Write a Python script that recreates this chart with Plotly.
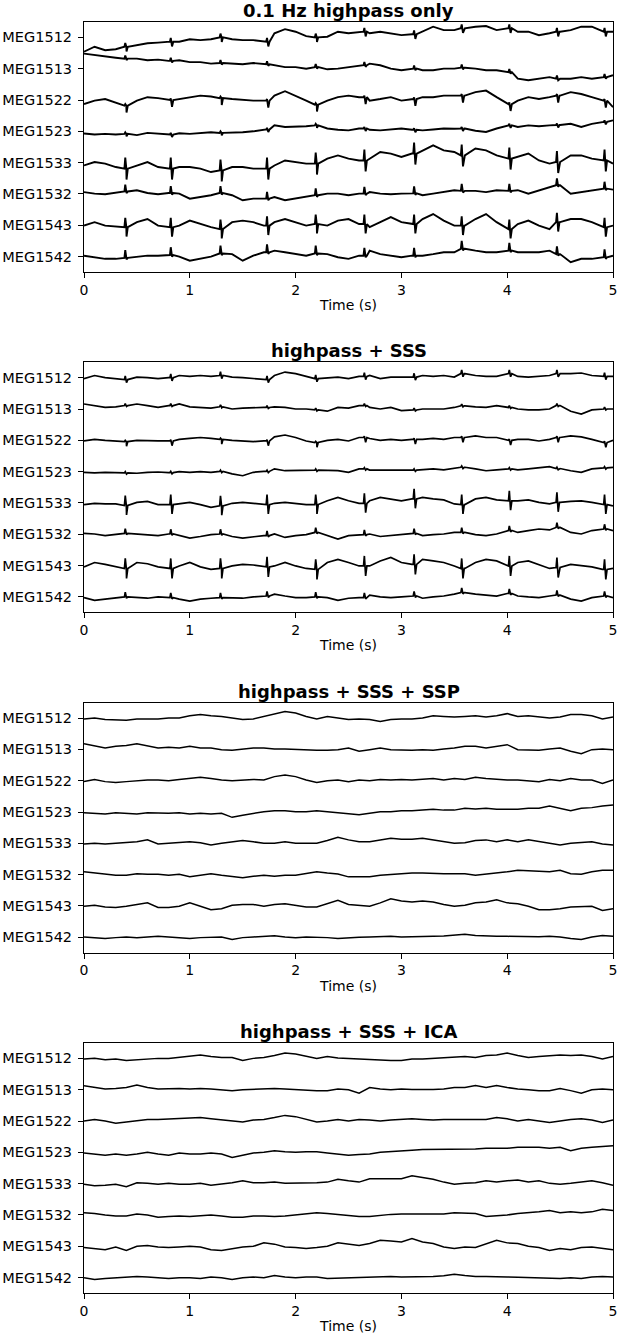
import numpy as np
import plotly.graph_objects as go
from plotly.subplots import make_subplots

channels = ["MEG1512", "MEG1513", "MEG1522", "MEG1523",
            "MEG1533", "MEG1532", "MEG1543", "MEG1542"]
panel_titles = ["0.1 Hz highpass only", "highpass + SSS",
                "highpass + SSS + SSP", "highpass + SSS + ICA"]
x_ticks = [0, 1, 2, 3, 4, 5]
# sampling grid of the read-off values (seconds)
times = [round(0.1 * i, 1) for i in range(51)]
# cardiac artefact times (s) read from the spikes
heartbeat_times = [0.39, 0.82, 1.29, 1.73, 2.19, 2.65, 3.12, 3.57, 4.02, 4.47, 4.92]

# values in units of the channel spacing, one list per channel, t = 0..5 s step 0.1
traces_highpass = [
    [-0.46,-0.30,-0.41,-0.38,-0.30,-0.25,-0.19,-0.17,-0.14,-0.14,-0.06,-0.09,-0.06,0.0,-0.06,-0.09,-0.09,-0.14,0.13,0.26,0.18,0.04,0.0,
     0.02,0.18,0.13,0.18,0.13,0.18,0.13,0.07,0.10,0.18,0.34,0.23,0.23,0.29,0.34,0.36,0.23,0.29,0.18,0.18,0.07,0.13,0.18,0.23,0.34,0.34,0.18,0.18],
    [0.48,0.43,0.39,0.35,0.32,0.32,0.27,0.29,0.25,0.27,0.21,0.21,0.16,0.18,0.16,0.14,0.18,0.14,0.11,0.05,0.05,0.0,0.05,
     -0.02,0.0,0.05,0.11,0.16,0.11,0.0,-0.05,0.0,-0.05,-0.05,0.0,0.0,0.03,0.0,-0.05,-0.05,-0.11,-0.32,-0.37,-0.32,-0.27,-0.32,-0.32,-0.27,-0.32,-0.27,-0.21],
    [-0.13,-0.02,0.03,-0.08,-0.18,-0.02,0.09,0.06,0.0,0.03,0.09,0.14,0.11,0.06,0.03,0.0,-0.02,-0.02,0.14,0.28,0.14,-0.02,-0.15,
     -0.02,0.09,0.14,0.09,-0.02,0.03,0.09,-0.02,0.03,0.09,0.09,0.14,0.14,0.14,0.25,0.30,0.09,-0.13,-0.02,0.09,0.03,0.09,0.14,0.25,0.19,0.09,-0.02,-0.23],
    [-0.07,-0.10,-0.08,-0.10,-0.08,-0.12,-0.05,-0.08,-0.10,-0.06,-0.08,-0.05,-0.03,-0.05,-0.05,-0.03,0.0,0.06,0.19,0.14,0.14,0.16,0.19,
     0.09,0.05,0.03,0.09,0.05,0.03,0.06,0.09,0.05,0.03,0.06,0.09,0.08,0.09,0.02,-0.02,0.09,0.19,0.14,0.19,0.16,0.19,0.20,0.24,0.14,0.24,0.30,0.35],
    [-0.09,0.02,-0.03,-0.14,-0.19,-0.09,0.02,-0.14,-0.19,-0.14,-0.14,-0.19,-0.30,-0.25,-0.14,-0.14,-0.19,-0.19,-0.09,0.07,0.02,-0.03,-0.03,
     0.13,0.23,0.13,0.07,0.13,0.34,0.29,0.18,0.29,0.39,0.55,0.39,0.34,0.23,0.45,0.39,0.23,0.13,0.18,0.29,0.07,-0.03,0.02,0.23,0.23,0.13,0.07,-0.03],
    [0.06,0.01,-0.01,0.03,0.08,0.12,0.03,-0.01,0.03,0.01,-0.15,-0.10,-0.04,0.03,-0.04,-0.20,-0.15,-0.15,-0.10,-0.20,-0.15,-0.10,-0.04,
     0.01,0.01,-0.04,0.01,0.06,0.01,-0.01,0.01,0.02,-0.04,0.01,0.06,0.12,0.10,0.10,0.06,0.12,0.10,0.12,0.01,0.12,0.22,0.28,0.01,0.06,0.12,0.17,0.14],
    [-0.01,0.10,-0.01,-0.04,-0.06,0.10,0.20,-0.01,-0.06,-0.01,0.15,0.04,-0.06,-0.12,0.10,0.15,0.10,-0.01,0.10,0.20,0.10,-0.01,0.04,
     -0.01,0.15,0.20,0.04,-0.06,0.10,0.26,0.10,0.04,0.20,0.36,0.15,-0.01,-0.01,0.20,0.36,0.10,-0.12,0.04,0.15,-0.01,-0.12,0.10,0.20,0.20,0.10,-0.06,-0.01],
    [0.03,-0.02,-0.07,-0.07,-0.04,0.0,0.03,0.03,0.05,0.0,-0.13,-0.07,0.0,0.10,0.08,-0.13,0.03,0.14,0.19,0.14,0.08,0.03,0.10,
     0.08,-0.02,-0.07,0.03,0.19,0.08,0.03,-0.02,0.03,0.03,0.08,0.14,0.14,0.25,0.19,0.14,0.14,0.19,0.14,0.14,0.14,0.19,0.08,-0.18,-0.07,-0.07,-0.02,0.03],
]
traces_sss = [
    [-0.03,0.07,0,-0.03,-0.06,0.02,0,-0.03,0,0.07,0.04,0.07,0.04,0.07,0.02,0,-0.03,-0.06,0.07,0.18,0.13,0.04,-0.03,
     0,0.02,-0.03,0.04,0.07,-0.03,0.02,0.02,0.02,0.07,0.04,0.07,0.02,0.13,0.07,0.04,0.04,0.13,0.04,0.02,0.04,0.07,0.13,0.13,0.15,0.07,0.04,0.04],
    [0.16,0.11,0.05,0.07,0.11,0.16,0.11,0.05,0.11,0.16,0.07,0.05,0.03,0.07,0,0.03,0.05,0.05,0.07,0.05,0,0,-0.03,
     -0.07,0.05,0.03,0.11,0.05,0,0.05,-0.05,-0.03,0,0,0,0.05,0.10,0.07,0.05,0.11,0.05,0,-0.03,-0.03,0,0.11,-0.07,-0.16,-0.03,0,0],
    [-0.02,0.03,0,-0.02,-0.04,0,-0.02,-0.02,-0.02,0.03,0.06,0.09,0.06,0.03,0,-0.02,-0.04,-0.02,0.11,0.17,0.09,-0.02,-0.07,
     0,0.03,-0.02,0.09,0.06,0,0.03,0,0.03,0.03,0.06,0.03,0.09,0.09,0.14,0.09,0.09,0,0.03,0.03,-0.02,0.03,0.09,0.14,0.11,0.03,-0.07,0],
    [-0.02,-0.04,-0.02,-0.03,-0.04,-0.05,-0.02,-0.01,-0.03,0,-0.02,0,-0.02,0.01,-0.07,-0.13,-0.02,0.01,0.09,0.03,0.03,0.05,0.05,
     0.03,0.03,-0.02,0.09,0.05,0.05,0.03,0.03,0.05,0.06,0.09,0.06,0.10,0.14,0.09,0.03,0.06,0.09,0.06,0.09,0.12,0.16,0.10,0.03,-0.02,0.09,0.12,0.14],
    [-0.05,-0.01,-0.03,-0.03,-0.08,0.02,0.05,-0.05,-0.05,-0.03,0.02,-0.05,-0.14,-0.09,-0.01,0.02,-0.01,-0.05,-0.01,0.02,-0.01,-0.05,-0.05,
     0.07,0.18,0.07,-0.01,0.07,0.18,0.13,0.07,0.13,0.18,0.13,0.10,-0.03,-0.05,0.13,0.18,0.10,0.07,0.07,0.10,0.02,-0.03,0.02,0.05,0.07,0.02,-0.05,-0.09],
    [0.03,0.01,-0.04,-0.01,0.03,0.01,-0.01,-0.04,0.01,-0.04,-0.12,-0.07,-0.01,0.01,-0.07,-0.12,-0.07,-0.04,0.01,-0.10,-0.04,-0.01,0.06,
     -0.04,-0.15,-0.04,-0.01,0.01,-0.07,-0.04,0.01,0.03,-0.04,-0.01,0.01,0.06,0.06,-0.01,-0.04,0.01,0.12,0.06,0.12,0.17,0.14,0.22,0.06,0.01,0.12,0.17,0.12],
    [-0.04,0.10,0.04,-0.04,-0.09,0.10,0.06,-0.04,-0.09,-0.01,0.10,-0.04,-0.12,-0.09,-0.01,0.04,0.02,-0.04,-0.01,0.10,-0.01,-0.09,-0.12,
     0.10,0.20,0.10,-0.01,-0.01,0.15,0.26,0.10,0.04,0.20,0.15,0.10,-0.01,-0.09,0.10,0.20,0.15,-0.01,0.10,0.15,0.04,-0.09,-0.06,0.04,-0.01,-0.04,-0.12,-0.09],
    [-0.02,-0.11,-0.07,-0.04,0,-0.02,-0.04,0,-0.02,-0.07,-0.13,-0.07,-0.04,-0.02,-0.02,-0.04,0,0.03,0.09,0.03,-0.02,-0.02,0,
     -0.02,-0.11,-0.04,-0.02,0.06,0,-0.02,0,0.03,-0.04,0,0.03,0.09,0.14,0.09,0.06,0.03,0.11,0.03,0,-0.02,0.03,0.06,-0.07,-0.13,-0.02,0.03,-0.02],
]
traces_ssp = [
    [-0.03,0,-0.05,-0.05,-0.07,-0.03,-0.03,-0.03,0,0,0.07,0.11,0.07,0.05,0,-0.05,-0.03,0.05,0.11,0.21,0.16,0.05,-0.03,
     0.05,0,-0.05,-0.03,-0.05,-0.11,-0.05,-0.03,-0.03,0,0.07,0.05,0.03,0.05,0.07,0.03,0.07,0.14,0.05,0.07,0.03,0,0.03,0.11,0.11,0.07,-0.03,0.03],
    [0.18,0.10,0.04,0.10,0.12,0.18,0.10,0.04,0.07,0.04,0.10,0.04,0.04,-0.01,-0.03,0.01,0.04,0.04,0.01,0.01,-0.01,-0.01,-0.03,
     -0.03,-0.01,0.04,-0.06,-0.01,0.04,-0.01,-0.03,-0.03,-0.01,-0.03,0.01,0.04,0.10,0.10,0.04,0.10,0.15,-0.01,-0.03,-0.03,0.01,0.04,-0.06,-0.14,-0.01,0.01,-0.01],
    [-0.03,0.04,-0.03,-0.06,-0.03,0,0.02,0.02,0,0.04,0.07,0.11,0.07,0.02,0,0.02,0.04,0.02,0.13,0.18,0.13,0.02,-0.06,
     0,0.02,-0.03,0.02,0,0.04,0.02,0.04,0.02,0.04,0.07,0.02,0.07,0.04,0.11,0.07,0.04,0.02,0.02,0,-0.03,0.04,0,0.07,0.02,0.02,-0.09,0.02],
    [-0.02,-0.04,-0.06,-0.02,-0.04,-0.06,-0.02,-0.04,-0.04,-0.02,-0.06,-0.04,-0.06,-0.04,-0.17,-0.10,-0.04,0.01,0.04,0.04,0.01,0.01,0.04,
     0.01,-0.04,-0.06,-0.09,-0.04,0.01,0.01,0.04,0.04,0.06,0.09,0.06,0.06,0.12,0.10,0.12,0.09,0.09,0.09,0.12,0.12,0.19,0.12,0.04,0.12,0.14,0.19,0.22],
    [-0.02,0,-0.02,0,0.02,0.05,0.11,-0.02,0,0.02,0.05,0.02,-0.05,0,0.05,0.09,0.05,0,0,0.05,0,0,0,
     0.09,0.19,0.11,0.05,0.05,0.11,0.16,0.13,0.13,0.16,0.11,0.05,0,0.02,0.09,0.11,0.05,0.11,0.05,0.11,0.05,0,-0.05,0,0.02,0.05,-0.02,-0.05],
    [0.09,0.05,0.01,-0.02,-0.02,0.03,0.01,0.01,-0.02,0.01,-0.07,-0.02,0.03,-0.02,-0.07,-0.10,-0.05,-0.02,-0.05,-0.02,-0.02,0.03,0.09,
     0.05,0.02,-0.07,-0.07,-0.07,-0.02,0.01,0.03,0.05,0.05,0.03,0.03,0.03,0.03,-0.02,0.01,0.05,0.09,0.14,0.12,0.12,0.09,0.14,0.03,0.01,0.09,0.14,0.14],
    [-0.01,0.02,-0.03,-0.05,-0.01,0.05,0.10,-0.05,-0.05,-0.01,0.10,-0.01,-0.12,-0.09,0.02,0.05,0.05,-0.01,0.05,0.07,0.02,-0.03,-0.03,
     0.07,0.18,0.05,0.02,-0.01,0.10,0.23,0.16,0.13,0.16,0.13,0.05,-0.01,0.02,0.10,0.13,0.20,0.10,0.07,-0.01,-0.12,-0.12,-0.09,-0.03,-0.03,-0.01,-0.14,-0.09],
    [0.01,-0.01,-0.04,-0.01,0.01,-0.01,0.01,0.03,0.01,-0.01,-0.04,-0.01,-0.01,0.01,-0.07,-0.01,0.01,0.03,0.05,0.01,-0.01,0.01,0.01,
     -0.01,-0.04,-0.01,0,0.01,0.02,0.03,0.01,0.01,0.02,0.03,0.04,0.06,0.10,0.06,0.04,0.03,0.03,0.02,0.01,0.02,0.03,0.01,-0.04,-0.07,0.01,0.06,0.03],
]
traces_ica = [
    [-0.02,0,-0.04,-0.02,-0.07,-0.04,-0.02,0,0,0.03,0.06,0.11,0.06,0.03,0.03,-0.07,0,0.03,0.09,0.17,0.14,0.06,0,
     0.06,0.01,0,-0.02,-0.04,-0.05,-0.07,-0.07,-0.02,-0.02,0,0.01,0.03,0.06,0.03,0.09,0.11,0.17,0.09,0.03,0.06,0.09,0.11,0.09,0.11,0.06,-0.02,0.06],
    [0.13,0.07,0.02,0.04,0.07,0.15,0.07,0.02,0.04,0.04,0.02,0.04,0.02,0,-0.03,0,0.02,0.02,0.04,0.02,0,0,-0.03,
     -0.03,0.02,0,-0.11,0.07,0.02,0,0.02,0.01,0,0.01,0.02,0.07,0.07,0.13,0.07,0.13,0.07,0.02,0,-0.03,-0.03,0.04,-0.03,-0.11,0,0.02,0],
    [0,0.05,0,-0.07,-0.03,0,0.05,0.05,0.07,0.07,0.11,0.11,0.07,0.03,0,-0.03,0.03,0.05,0.11,0.18,0.14,0.05,-0.03,
     0,0.05,0,0.05,0.03,0,0.03,0.05,0.07,0.05,0.03,0.05,0.05,0.07,0.05,0.05,0.11,0.07,0,0.05,0,-0.05,0,0.05,0.07,0.03,-0.05,0.03],
    [-0.02,-0.05,-0.09,-0.05,-0.09,-0.05,0,-0.05,-0.09,-0.02,-0.05,-0.05,-0.02,-0.05,-0.16,-0.09,-0.02,0,0.05,0.02,0,0.02,0.02,
     -0.02,-0.05,-0.09,-0.07,-0.05,0,0.03,0.05,0.07,0.09,0.09,0.11,0.09,0.09,0.11,0.13,0.13,0.13,0.16,0.16,0.16,0.13,0.16,0.05,0.13,0.16,0.18,0.21],
    [-0.02,-0.07,-0.05,-0.02,-0.10,0.03,0.01,-0.02,0.01,-0.02,-0.02,0.01,-0.05,-0.02,0.03,0.09,0.03,0.03,0.05,0.01,0.01,0.03,0.03,
     0.05,0.14,0.09,0.05,0.16,0.16,0.14,0.16,0.25,0.19,0.14,0.05,-0.02,0.01,0.03,0.09,0.05,0.09,0.12,0.05,0.09,0.01,-0.02,0.01,0.05,0.09,0.03,-0.05],
    [0.07,0.05,0,-0.03,-0.03,0.03,0,-0.07,-0.05,-0.03,-0.05,-0.03,0,-0.03,-0.07,-0.07,-0.03,-0.03,-0.05,-0.03,0,0.05,0.07,
     0.05,0.02,-0.03,-0.05,-0.05,-0.01,0.02,0.03,0.03,0.05,0.05,0.03,0.07,0.07,0.05,-0.05,-0.03,0,0.05,0.07,0.10,0.14,0.07,0.10,0.07,0.10,0.18,0.14],
    [-0.04,-0.07,-0.11,-0.02,-0.13,0,0.03,-0.02,-0.04,-0.02,0,-0.02,-0.11,-0.13,-0.07,-0.02,0,0.11,0.07,-0.02,-0.04,-0.07,-0.04,
     0,0.11,0.07,0.03,0.09,0.19,0.17,0.14,0.25,0.14,0.09,-0.02,-0.07,-0.02,-0.04,0.07,0.19,0.11,0.09,0,-0.04,-0.13,-0.07,-0.11,-0.04,-0.02,-0.07,-0.11],
    [0,-0.06,-0.03,0,0.02,0.04,0.02,0,-0.03,0,0,-0.03,0.02,0,-0.06,0,0.02,0,0.07,0.02,0,0.02,0.02,
     -0.03,-0.02,0,0.01,0.02,0.03,0.04,0.02,0.02,0.03,0.04,0.06,0.11,0.07,0.04,0.04,0.04,0.02,0.01,0,-0.02,-0.03,-0.03,0,-0.03,0.02,0.04,0.02],
]

# cardiac spike size per channel (upward peak, downward trough), spacing units
spike_up_highpass = [0.12, 0.10, 0.05, 0.05, 0.35, 0.22, 0.30, 0.25]
spike_down_highpass = [0.15, 0.05, 0.22, 0.08, 0.35, 0.05, 0.30, 0.05]
spike_up_sss = [0.12, 0.06, 0.04, 0.04, 0.32, 0.15, 0.32, 0.15]
spike_down_sss = [0.10, 0.03, 0.15, 0.04, 0.30, 0.04, 0.32, 0.04]
spike_none = [0.0] * 8

panels = [
    (traces_highpass, spike_up_highpass, spike_down_highpass),
    (traces_sss, spike_up_sss, spike_down_sss),
    (traces_ssp, spike_none, spike_none),
    (traces_ica, spike_none, spike_none),
]
line_widths = [1.9, 1.7, 1.5, 1.5]

for tr, _, _ in panels:
    for v in tr:
        assert len(v) == len(times), len(v)


def build(values, up, down):
    ts = list(times)
    vs = list(values)
    if up > 0 or down > 0:
        for tb in heartbeat_times:
            base = values[int(round(tb / 0.1))]
            ts += [tb - 0.008, tb, tb + 0.012, tb + 0.024]
            vs += [base, base + up, base - down, base]
    order = np.argsort(ts, kind="stable")
    return np.array(ts)[order], np.array(vs)[order]


fig = make_subplots(rows=4, cols=1, vertical_spacing=0.0711)
FONT = "DejaVu Sans, Verdana, sans-serif"

for p, (tr, ups, downs) in enumerate(panels):
    row = p + 1
    for k, ch in enumerate(channels):
        t, v = build(tr[k], ups[k], downs[k])
        fig.add_trace(go.Scatter(x=t, y=v - k, mode="lines",
                                 line=dict(color="black", width=line_widths[p]),
                                 showlegend=False, hoverinfo="skip"),
                      row=row, col=1)
    fig.update_xaxes(range=[0, 5], tickvals=x_ticks, ticktext=[str(v) for v in x_ticks],
                     title=dict(text="Time (s)", font=dict(size=14, family=FONT, color="black"), standoff=3),
                     row=row, col=1)
    fig.update_yaxes(range=[-7.49, 0.49], tickvals=[-k for k in range(8)], ticktext=channels,
                     row=row, col=1)
    axname = "" if row == 1 else str(row)
    fig.add_annotation(text="<b>" + panel_titles[p] + "</b>", xref="x%s domain" % axname,
                       yref="y%s domain" % axname, x=0.5, y=1.0, xanchor="center", yanchor="bottom",
                       yshift=-1, showarrow=False, font=dict(size=18, family=FONT, color="black"))

fig.update_xaxes(showline=True, mirror=True, linecolor="black", linewidth=1, showgrid=False,
                 zeroline=False, ticks="outside", ticklen=5, tickwidth=1, tickcolor="black",
                 automargin=False, tickfont=dict(size=14, family=FONT, color="black"))
fig.update_yaxes(showline=True, mirror=True, linecolor="black", linewidth=1, showgrid=False,
                 zeroline=False, ticks="outside", ticklen=5, tickwidth=1, tickcolor="black",
                 automargin=False, ticklabelstandoff=3,
                 tickfont=dict(size=14.5, family=FONT, color="black"))
fig.update_layout(width=619, height=1339, margin=dict(l=84, r=6, t=22, b=46),
                  plot_bgcolor="white", paper_bgcolor="white", font=dict(family=FONT))
fig.write_html("out.html", config={"displayModeBar": False},
               post_script="document.body.style.margin='0';")
